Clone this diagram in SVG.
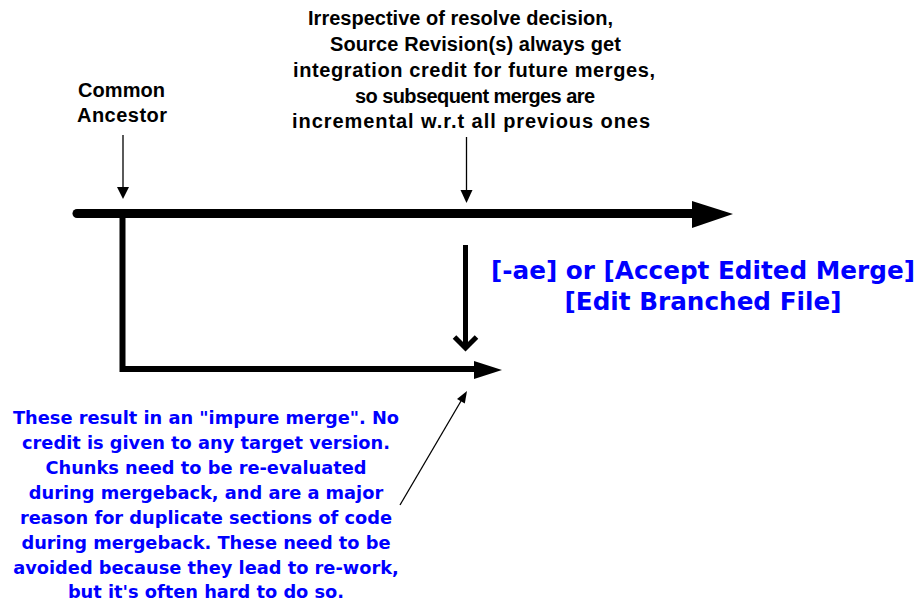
<svg xmlns="http://www.w3.org/2000/svg" width="922" height="603" viewBox="0 0 922 603">
<style>
.blk{font-family:"Liberation Sans",Arial,sans-serif;font-weight:bold;font-size:20px;fill:#000}
.blu{font-family:"DejaVu Sans",Verdana,sans-serif;font-weight:bold;fill:#0000ff;text-anchor:middle}
.big{font-size:24.7px}
.sm{font-size:17.8px}
.thin{stroke:#000;stroke-width:1.3;fill:none}
</style>
<rect width="922" height="603" fill="#fff"/>
<g id="connectors">
  <path d="M77,213.5 H694" stroke="#000" stroke-width="9" stroke-linecap="round" fill="none"/>
  <polygon points="692,201 733,214 692,228" fill="#000"/>
  <path d="M122.5,213 V369 H476" stroke="#000" stroke-width="6" stroke-linejoin="miter" fill="none"/>
  <polygon points="474,361 502,370 474,379" fill="#000"/>
  <line class="thin" x1="123" y1="135" x2="123" y2="189"/>
  <polygon points="117,187 129,187 123,199" fill="#000"/>
  <line class="thin" x1="466.5" y1="137" x2="466.5" y2="192"/>
  <polygon points="460.5,190 472.5,190 466.5,203" fill="#000"/>
  <line x1="465.5" y1="245" x2="465.5" y2="347" stroke="#000" stroke-width="5"/>
  <polyline points="454.5,337 465.5,348 476.5,337" stroke="#000" stroke-width="5" fill="none"/>
  <line class="thin" x1="400" y1="505" x2="461" y2="401"/>
  <polygon points="467,391 464.8,403.6 457,399" fill="#000"/>
</g>
<g id="common-ancestor">
  <text class="blk" x="78" y="97" textLength="87" lengthAdjust="spacing">Common</text>
  <text class="blk" x="77" y="122" textLength="90" lengthAdjust="spacing">Ancestor</text>
</g>
<g id="integration-credit-note">
  <text class="blk" x="308" y="25" textLength="305" lengthAdjust="spacing">Irrespective of resolve decision,</text>
  <text class="blk" x="330" y="51" textLength="291" lengthAdjust="spacing">Source Revision(s) always get</text>
  <text class="blk" x="293" y="77" textLength="362" lengthAdjust="spacing">integration credit for future merges,</text>
  <text class="blk" x="355" y="103" textLength="240" lengthAdjust="spacing">so subsequent merges are</text>
  <text class="blk" x="292" y="128" textLength="358" lengthAdjust="spacing">incremental w.r.t all previous ones</text>
</g>
<g id="resolve-option">
  <text class="blu big" x="703" y="279">[-ae] or [Accept Edited Merge]</text>
  <text class="blu big" x="703" y="310">[Edit Branched File]</text>
</g>
<g id="impure-merge-note">
  <text class="blu sm" x="206" y="423.5">These result in an "impure merge". No</text>
  <text class="blu sm" x="206" y="448.5">credit is given to any target version.</text>
  <text class="blu sm" x="206" y="473.5">Chunks need to be re-evaluated</text>
  <text class="blu sm" x="206" y="498.5">during mergeback, and are a major</text>
  <text class="blu sm" x="206" y="523.5">reason for duplicate sections of code</text>
  <text class="blu sm" x="206" y="548.5">during mergeback. These need to be</text>
  <text class="blu sm" x="206" y="573.5">avoided because they lead to re-work,</text>
  <text class="blu sm" x="206" y="598">but it's often hard to do so.</text>
</g>
</svg>
